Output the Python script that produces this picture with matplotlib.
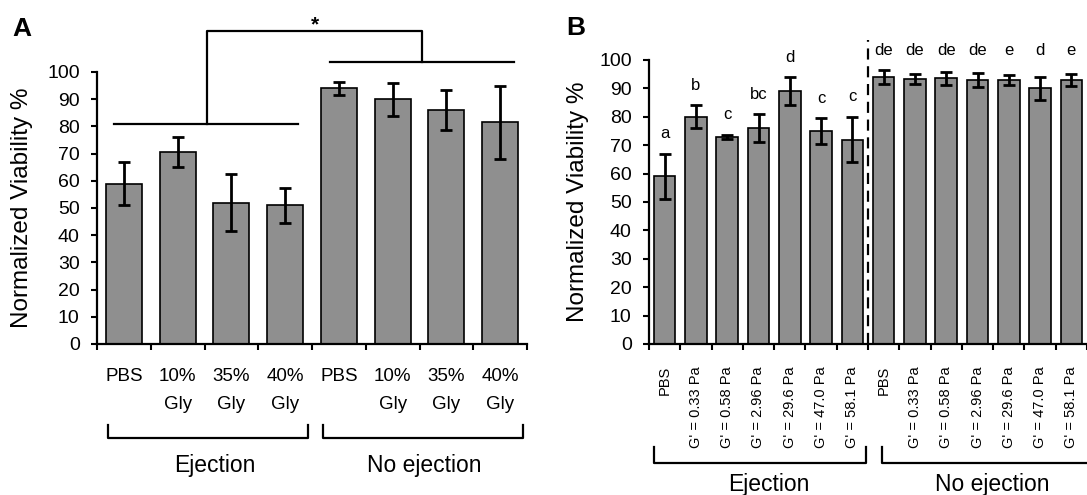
import matplotlib
matplotlib.use('Agg')
import matplotlib.pyplot as plt
import numpy as np

plt.rcParams['font.family'] = ['Liberation Sans', 'DejaVu Sans']

# Panel A: glycerol concentration
a_labels = ['PBS', '10%\nGly', '35%\nGly', '40%\nGly', 'PBS', '10%\nGly', '35%\nGly', '40%\nGly']
a_means = [59, 70.5, 52, 51, 94, 90, 86, 81.5]
a_err = [8, 5.5, 10.5, 6.5, 2.5, 6, 7.5, 13.5]

# Panel B: storage modulus
b_labels = ['PBS', "G' = 0.33 Pa", "G' = 0.58 Pa", "G' = 2.96 Pa", "G' = 29.6 Pa",
            "G' = 47.0 Pa", "G' = 58.1 Pa"] * 2
b_means = [59, 80, 73, 76, 89, 75, 72, 94, 93.3, 93.5, 93, 93, 90, 93]
b_err = [8, 4, 0.7, 5, 5, 4.5, 8, 2.5, 1.8, 2.4, 2.4, 1.8, 4, 2]
b_letters = ['a', 'b', 'c', 'bc', 'd', 'c', 'c', 'de', 'de', 'de', 'de', 'e', 'd', 'e']

groups = ['Ejection', 'No ejection']

bar_color = '#8f8f8f'
W, H = 1087, 495
fig = plt.figure(figsize=(W / 100, H / 100), dpi=100)

axA = fig.add_axes([97 / W, 151 / H, 430 / W, 272 / H])
axB = fig.add_axes([649 / W, 151 / H, 438 / W, 284 / H])


def style_axis(ax, n, pad):
    ax.set_ylim(0, 100)
    ax.set_xlim(-0.5, n - 0.5)
    ax.set_yticks(np.arange(0, 101, 10))
    ax.spines['top'].set_visible(False)
    ax.spines['right'].set_visible(False)
    ax.spines['left'].set_linewidth(1.6)
    ax.spines['bottom'].set_linewidth(1.6)
    ax.tick_params(axis='y', length=4.5, width=1.5, labelsize=14, pad=8)
    ax.set_xticks(np.arange(n))
    ax.set_xticks(np.arange(n + 1) - 0.5, minor=True)
    ax.tick_params(axis='x', which='major', length=0, pad=pad)
    ax.tick_params(axis='x', which='minor', length=4, width=1.5)
    ax.set_ylabel('Normalized Viability %', fontsize=17.5)


# ---- Panel A
xa = np.arange(len(a_means))
axA.bar(xa, a_means, width=0.67, color=bar_color, edgecolor='black', linewidth=1.2, zorder=2)
axA.errorbar(xa, a_means, yerr=a_err, fmt='none', ecolor='black', elinewidth=2,
             capsize=4.5, capthick=2, zorder=3)
style_axis(axA, len(a_means), 17)
axA.set_xticklabels(a_labels, fontsize=13.5, linespacing=1.9, va='top')
axA.yaxis.set_label_coords(-0.149, 0.5)

# significance bracket
kw = dict(color='black', lw=1.6, clip_on=False)
axA.plot([-0.18, 3.24], [81, 81], **kw)
axA.plot([3.84, 7.25], [103.7, 103.7], **kw)
axA.plot([1.55, 1.55, 5.55, 5.55], [81, 115, 115, 103.7], **kw)
axA.text(3.56, 117.5, '*', ha='center', va='center', fontsize=15, fontweight='bold')

# group brackets
for x0, x1, xt, name in [(-0.3, 3.43, 1.7, groups[0]), (3.71, 7.43, 5.58, groups[1])]:
    axA.plot([x0, x0, x1, x1], [-29.8, -34.6, -34.6, -29.8], **kw)
    axA.text(xt, -44.5, name, ha='center', va='center', fontsize=16.5)

# ---- Panel B
xb = np.arange(len(b_means))
axB.bar(xb, b_means, width=0.69, color=bar_color, edgecolor='black', linewidth=1.2, zorder=2)
axB.errorbar(xb, b_means, yerr=b_err, fmt='none', ecolor='black', elinewidth=2,
             capsize=4.5, capthick=2, zorder=3)
style_axis(axB, len(b_means), 16)
axB.set_xticklabels(b_labels, fontsize=10.5, rotation=90, va='top')
axB.yaxis.set_label_coords(-0.137, 0.5)

half = len(b_means) // 2
top_row = max(m + e for m, e in zip(b_means[half:], b_err[half:])) + 7
for i, (m, e, lab) in enumerate(zip(b_means, b_err, b_letters)):
    y = m + e + 7 if i < half else top_row
    axB.text(i, y, lab, ha='center', va='center', fontsize=12)

axB.plot([half - 0.5, half - 0.5], [0, 107], color='black', lw=1.6,
         linestyle=(0, (5, 3)), clip_on=False, zorder=4)

for x0, x1, xt, name in [(-0.34, 6.45, 3.33, groups[0]), (6.94, 13.9, 10.46, groups[1])]:
    axB.plot([x0, x0, x1, x1], [-36.3, -41.9, -41.9, -36.3], **kw)
    axB.text(xt, -49.3, name, ha='center', va='center', fontsize=16.5)

fig.text(22 / W, 1 - 29 / H, 'A', ha='center', va='center', fontsize=19, fontweight='bold')
fig.text(576 / W, 1 - 28 / H, 'B', ha='center', va='center', fontsize=19, fontweight='bold')

fig.savefig('out.png', dpi=100)
